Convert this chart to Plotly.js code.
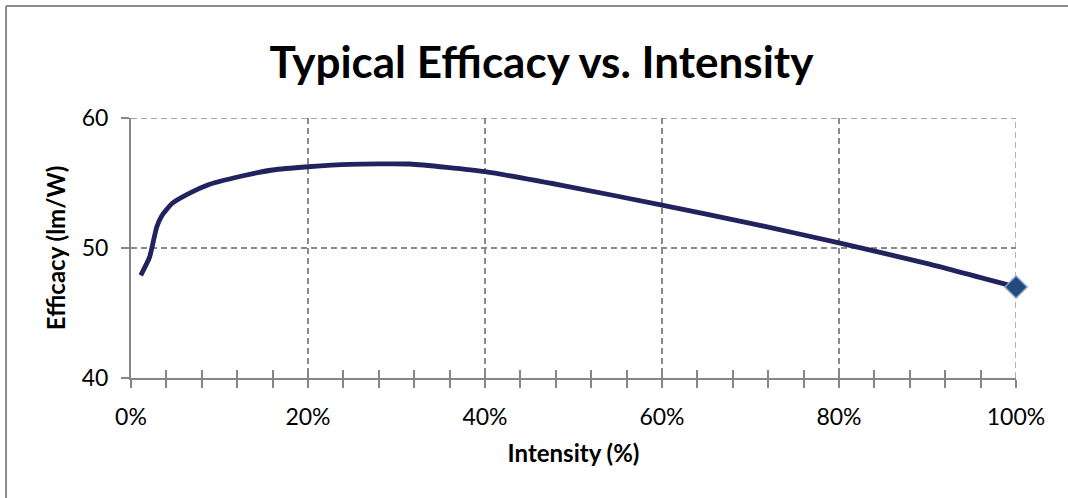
<!DOCTYPE html>
<html><head><meta charset="utf-8">
<script src="https://cdn.plot.ly/plotly-3.0.1.min.js"></script>
<style>
html,body{margin:0;padding:0;background:#fff;overflow:hidden;}
#chart{position:absolute;left:0;top:0;width:1068px;height:498px;}
</style></head>
<body>
<div id="chart"></div>
<script>
var intensity = [0.011, 0.021, 0.029, 0.035, 0.046, 0.063, 0.089, 0.123, 0.16, 0.20, 0.247, 0.315, 0.40, 0.50, 0.60, 0.70, 0.80, 0.90, 1.00];
var efficacy  = [47.9, 49.3, 51.6, 52.5, 53.4, 54.1, 54.9, 55.5, 56.0, 56.25, 56.44, 56.46, 55.87, 54.65, 53.3, 51.9, 50.4, 48.8, 47.0];
var endX = [intensity[intensity.length-1]];
var endY = [efficacy[efficacy.length-1]];
var xTickVals = [0, 0.2, 0.4, 0.6, 0.8, 1.0];
var xTickText = ['0%', '20%', '40%', '60%', '80%', '100%'];
var yTickVals = [40, 50, 60];

var font = 'Lato, "Open Sans", sans-serif';
var gridStyle = {color: '#8a8a8a', width: 1.3, dash: '6px,4px'};
var traces = [
  {x: intensity, y: efficacy, mode: 'lines', type: 'scatter',
   line: {color: '#22235e', width: 4.8, shape: 'spline', smoothing: 0.5}, hoverinfo: 'skip', cliponaxis: false},
  {x: endX, y: endY, mode: 'markers', type: 'scatter', cliponaxis: false,
   marker: {symbol: 'diamond', size: 17, color: '#24497d', line: {color: '#7d9fcb', width: 1.5}}, hoverinfo: 'skip'},
  {x: [0], y: [40], xaxis: 'x2', mode: 'markers', marker: {opacity: 0}, hoverinfo: 'skip'}
];
var xMax = xTickVals[xTickVals.length-1], yMax = yTickVals[yTickVals.length-1];
var layout = {
  width: 1068, height: 498,
  paper_bgcolor: '#fff', plot_bgcolor: 'rgba(0,0,0,0)',
  showlegend: false,
  margin: {l: 131, r: 52, t: 118, b: 120},
  title: {text: 'Typical Efficacy vs. Intensity', x: 0.507, xref: 'container', xanchor: 'center', y: 0.875, yref: 'container', yanchor: 'middle',
          font: {family: font, size: 44, color: '#000', weight: 'bold'}},
  shapes: [
    {type: 'line', xref: 'x', yref: 'y', x0: xTickVals[0], x1: xMax, y0: yMax, y1: yMax, line: gridStyle, layer: 'below'},
    {type: 'line', xref: 'x', yref: 'y', x0: xMax, x1: xMax, y0: yTickVals[0], y1: yMax, line: gridStyle, layer: 'below'},
    {type: 'line', xref: 'paper', yref: 'paper', x0: -0.1412, x1: 1.06, y0: 1.4308, y1: 1.4308, line: {color: '#8c8c8c', width: 2}},
    {type: 'line', xref: 'paper', yref: 'paper', x0: -0.1412, x1: -0.1412, y0: 1.4308, y1: -0.6, line: {color: '#8c8c8c', width: 2}}
  ],
  xaxis: {range: [0, 1], tickvals: xTickVals, ticktext: xTickText,
          showgrid: true, gridcolor: '#8a8a8a', griddash: '6px,4px', gridwidth: 1.3,
          showline: true, linecolor: '#868686', linewidth: 2,
          ticks: 'outside', ticklen: 8, tickcolor: '#868686', tickwidth: 2,
          minor: {dtick: 0.04, tick0: 0, ticks: 'outside', ticklen: 8, tickcolor: '#868686', tickwidth: 2, showgrid: false},
          tickfont: {family: font, size: 23, color: '#000'}, ticklabelstandoff: 9,
          zeroline: false,
          title: {text: 'Intensity (%)', font: {family: font, size: 24, color: '#000', weight: 'bold'}, standoff: 17}},
  xaxis2: {range: [0, 1], overlaying: 'x', side: 'bottom', anchor: 'y', tick0: 0, dtick: 0.04,
           ticks: 'inside', ticklen: 8, tickcolor: '#868686', tickwidth: 2,
           showticklabels: false, showgrid: false, showline: false, zeroline: false},
  yaxis: {range: [40, 60], tickvals: yTickVals,
          showgrid: true, gridcolor: '#8a8a8a', griddash: '6px,4px', gridwidth: 1.3,
          showline: true, linecolor: '#868686', linewidth: 2,
          ticks: 'outside', ticklen: 8, tickcolor: '#868686', tickwidth: 2,
          tickfont: {family: font, size: 23, color: '#000'}, ticklabelstandoff: 8,
          zeroline: false,
          title: {text: 'Efficacy (lm/W)', font: {family: font, size: 24, color: '#000', weight: 'bold'}, standoff: 9}}
};
Plotly.newPlot('chart', traces, layout, {staticPlot: true, displayModeBar: false});
</script>
</body></html>
